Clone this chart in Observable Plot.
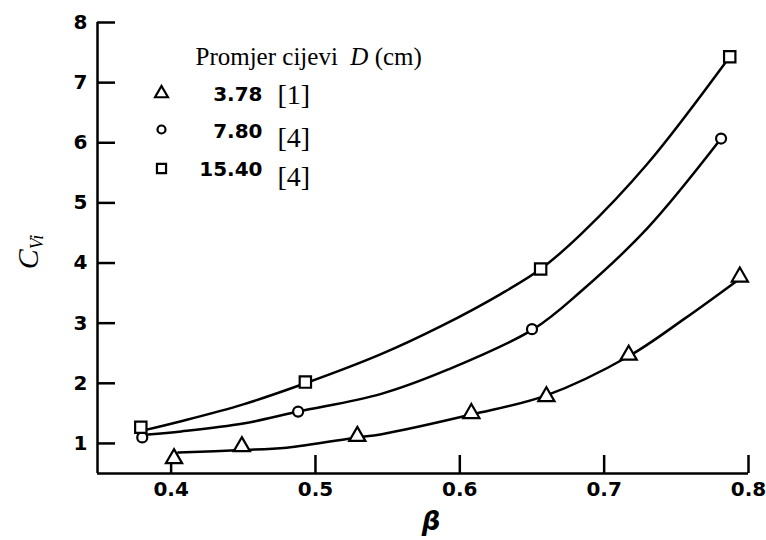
<!DOCTYPE html>
<html><head><meta charset="utf-8">
<script src="https://cdn.jsdelivr.net/npm/d3@7"></script>
<script src="https://cdn.jsdelivr.net/npm/@observablehq/plot@0.6"></script>
<style>body{margin:0;background:#fff}#chart{width:766px;height:540px}</style>
</head><body><div id="chart"></div>
<script>
// ---- data ----
const seriesNames = ["3.78", "7.80", "15.40"];
const seriesRefs = ["[1]", "[4]", "[4]"];
const seriesSymbols = ["triangle", "circle", "square"];
const markerR = [6.0, 5.0, 6.4];

// measured points
const triBeta = [0.402, 0.449, 0.529, 0.608, 0.660, 0.717, 0.794];
const triC    = [0.75, 0.95, 1.12, 1.50, 1.78, 2.47, 3.77];
const cirBeta = [0.380, 0.488, 0.650, 0.781];
const cirC    = [1.10, 1.53, 2.90, 6.07];
const sqBeta  = [0.379, 0.493, 0.656, 0.787];
const sqC     = [1.27, 2.02, 3.90, 7.43];

// fitted curves
const triCurveBeta = [0.405, 0.449, 0.480, 0.529, 0.545, 0.608, 0.660, 0.717, 0.756, 0.794];
const triCurveC    = [0.85, 0.89, 0.93, 1.10, 1.15, 1.48, 1.80, 2.45, 3.08, 3.74];
const cirCurveBeta = [0.384, 0.407, 0.450, 0.488, 0.545, 0.592, 0.651, 0.684, 0.730, 0.781];
const cirCurveC    = [1.15, 1.20, 1.33, 1.53, 1.82, 2.23, 2.90, 3.53, 4.58, 6.07];
const sqCurveBeta  = [0.383, 0.407, 0.450, 0.493, 0.545, 0.587, 0.628, 0.656, 0.684, 0.730, 0.787];
const sqCurveC     = [1.23, 1.37, 1.65, 2.00, 2.48, 2.95, 3.48, 3.90, 4.48, 5.65, 7.43];

const xTicks = [0.4, 0.5, 0.6, 0.7, 0.8];
const yTicks = [1, 2, 3, 4, 5, 6, 7, 8];
const xDomain = [0.349, 0.8];
const yDomain = [0.5, 8];

// ---- tables ----
const pointSets = [[triBeta, triC], [cirBeta, cirC], [sqBeta, sqC]];
const curveSets = [[triCurveBeta, triCurveC], [cirCurveBeta, cirCurveC], [sqCurveBeta, sqCurveC]];
const points = pointSets.flatMap(([b, c], i) => b.map((v, j) => ({series: seriesNames[i], beta: v, c: c[j]})));
const curves = curveSets.flatMap(([b, c], i) => b.map((v, j) => ({series: seriesNames[i], beta: v, c: c[j]})));

const X0 = xDomain[0], Y0 = yDomain[0];
const tickFont = "DejaVu Sans";
const serif = "Liberation Serif";

const legendSymDy = [71, 107, 146];
const legendNumDy = [78, 115, 153];
const legendRefDy = [81, 124, 163];

const legendMarks = seriesNames.flatMap((name, i) => [
  Plot.dot([name], {frameAnchor: "top-left", dx: 64, dy: legendSymDy[i], symbol: d => d, r: markerR[i] * 0.8, fill: "white", stroke: "black", strokeWidth: 2.2}),
  Plot.text([name], {frameAnchor: "top-left", dx: 165, dy: legendNumDy[i], textAnchor: "end", lineAnchor: "bottom", fontSize: 20, fontWeight: "bold", fontFamily: tickFont, fill: "black"}),
  Plot.text([seriesRefs[i]], {frameAnchor: "top-left", dx: 180, dy: legendRefDy[i], textAnchor: "start", lineAnchor: "bottom", fontSize: 28, fontFamily: serif, fill: "black"})
]);

const dotMarks = seriesNames.map((name, i) =>
  Plot.dot(points.filter(d => d.series === name), {x: "beta", y: "c", symbol: "series", r: markerR[i], fill: "white", stroke: "black", strokeWidth: 2.2})
);

const chart = Plot.plot({
  width: 766, height: 540,
  marginLeft: 97, marginRight: 18, marginTop: 22, marginBottom: 67,
  x: {domain: xDomain},
  y: {domain: yDomain},
  symbol: {domain: seriesNames, range: seriesSymbols},
  style: {background: "white", color: "black", fontFamily: tickFont},
  marks: [
    Plot.axisX(xTicks, {tickSize: 0, tickPadding: 8, tickFormat: d => d.toFixed(1), fontSize: 20, fontWeight: "bold", fontFamily: tickFont, label: null}),
    Plot.axisY(yTicks, {tickSize: 0, tickPadding: 10, tickFormat: d => String(d), fontSize: 20, fontWeight: "bold", fontFamily: tickFont, label: null}),
    Plot.ruleX(xTicks, {x: d => d, y1: Y0, y2: Y0, insetTop: -18, strokeWidth: 2.5}),
    Plot.ruleY(yTicks, {y: d => d, x1: X0, x2: X0, insetRight: -18, strokeWidth: 2.5}),
    Plot.ruleX([X0], {x: d => d, y1: Y0, y2: yDomain[1], strokeWidth: 2.5}),
    Plot.ruleY([Y0], {y: d => d, x1: X0, x2: xDomain[1], strokeWidth: 2.5}),
    Plot.line(curves, {x: "beta", y: "c", z: "series", curve: "catmull-rom", stroke: "black", strokeWidth: 2.5}),
    ...dotMarks,
    Plot.text(["Promjer cijevi D (cm)"], {frameAnchor: "top-left", dx: 98, dy: 42, textAnchor: "start", lineAnchor: "bottom", fontSize: 25, fontFamily: serif, fill: "black"}),
    ...legendMarks,
    Plot.text(["β"], {frameAnchor: "bottom", dx: 8, dy: 48, lineAnchor: "middle", fontSize: 26, fontWeight: "bold", fontStyle: "italic", fontFamily: tickFont, fill: "black"}),
    Plot.text(["CVi"], {frameAnchor: "left", dx: -60, dy: 4, rotate: -90, textAnchor: "middle", lineAnchor: "bottom", fontSize: 30, fontStyle: "italic", fontFamily: serif, fill: "black"})
  ]
});
document.getElementById("chart").appendChild(chart);

// rich text: italic D in the legend title, subscript on the y label
const svg = d3.select(chart);
const byText = s => svg.selectAll("text").filter(function () { return this.textContent === s; });
const t = byText("Promjer cijevi D (cm)");
t.text(null).attr("xml:space", "preserve");
t.append("tspan").text("Promjer cijevi  ");
t.append("tspan").text("D").attr("font-style", "italic");
t.append("tspan").text(" (cm)");
const yl = byText("CVi");
yl.text(null);
yl.append("tspan").text("C");
yl.append("tspan").text("Vi").attr("font-size", 18).attr("dy", "0.3em");
</script></body></html>
